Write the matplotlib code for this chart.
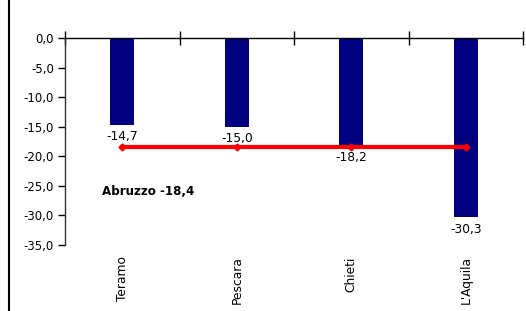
import matplotlib
matplotlib.use("Agg")
import matplotlib.pyplot as plt
from matplotlib.lines import Line2D
from matplotlib.ticker import FuncFormatter, FixedLocator
import numpy as np

# Data
provinces = ["Teramo", "Pescara", "Chieti", "L'Aquila"]
values = [-14.7, -15.0, -18.2, -30.3]
abruzzo = -18.4

plt.rcParams['font.family'] = ['DejaVu Sans']

fig = plt.figure(figsize=(5.26, 3.11), dpi=100)
ax = fig.add_axes([65 / 526, 1 - 245 / 311, (523 - 65) / 526, (245 - 38) / 311])

x = np.arange(len(provinces))
ax.bar(x, values, width=0.21, color='#000080', zorder=2)
ax.plot(x, [abruzzo] * len(x), color='#ff0000', lw=3, marker='D', ms=3.5, zorder=3)

for xi, v in zip(x, values):
    ax.annotate(f"{v:.1f}".replace('.', ','), (xi, v), xytext=(0, -4),
                textcoords='offset points', ha='center', va='top', fontsize=8.8, zorder=4)

ax.text(-0.18, -26.0, f"Abruzzo {abruzzo:.1f}".replace('.', ','), fontsize=8.6,
        fontweight='bold', ha='left', va='center')

ax.set_xlim(-0.5, 3.5)
ax.set_ylim(-35, 0)
ax.set_yticks(np.arange(-35, 1, 5))
ax.yaxis.set_major_formatter(FuncFormatter(lambda v, p: f"{v:.1f}".replace('.', ',')))
ax.tick_params(axis='y', labelsize=8.5, length=5, width=1, direction='out', pad=3)

# category boundaries as ticks on the zero line
ax.xaxis.set_major_locator(FixedLocator([-0.5, 0.5, 1.5, 2.5, 3.5]))
ax.xaxis.set_major_formatter(FuncFormatter(lambda v, p: ""))
ax.tick_params(axis='x', direction='inout', length=10, width=1)
ax.xaxis.set_ticks_position('top')
for xi, name in zip(x, provinces):
    ax.text(xi, -36.9, name, rotation=90, ha='center', va='top', fontsize=8.8)

for s in ['right', 'bottom']:
    ax.spines[s].set_visible(False)
ax.spines['top'].set_position(('data', 0))
ax.spines['top'].set_linewidth(1)
ax.spines['left'].set_linewidth(1)
ax.spines['left'].set_color('#333333')

# outer frame line on the left
fig.add_artist(Line2D([8.5 / 526, 8.5 / 526], [0, 1], color='black', lw=1.5))

fig.savefig("out.png", dpi=100)
